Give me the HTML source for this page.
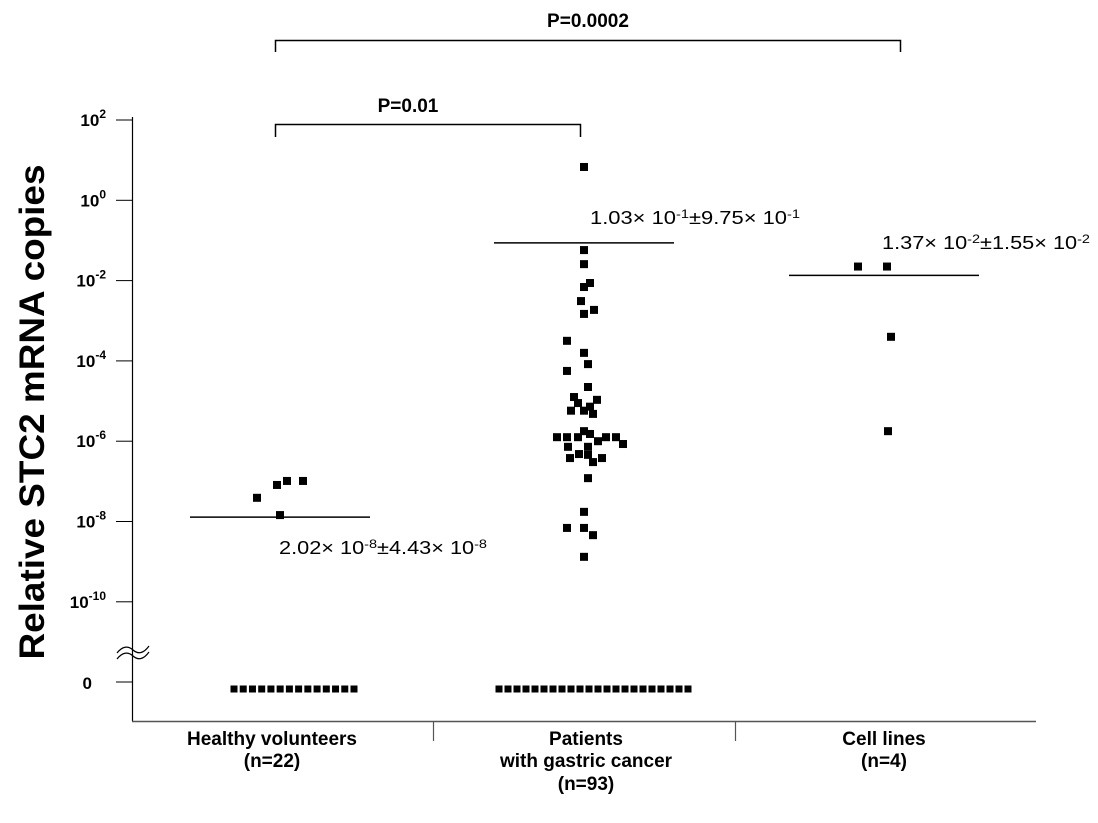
<!DOCTYPE html>
<html><head><meta charset="utf-8"><style>
body{margin:0;background:#fff;}
svg text{font-family:"Liberation Sans",Arial,sans-serif;fill:#000;}
</style></head><body>
<svg id="chart" width="1098" height="818" viewBox="0 0 1098 818" xmlns="http://www.w3.org/2000/svg">
<g id="axes"></g>
<g id="marks"></g>
<text transform="translate(44,412) rotate(-90)" text-anchor="middle" font-size="35" font-weight="bold" textLength="495" lengthAdjust="spacingAndGlyphs">Relative STC2  mRNA copies</text>
<g>
<path d="M275.5,52 V40.5 H900.5 V52" fill="none" stroke="#000" stroke-width="1.5"/>
<text x="588" y="27" text-anchor="middle" font-size="19" font-weight="bold">P=0.0002</text>
</g>
<g>
<path d="M275.5,137 V124.5 H580.5 V137" fill="none" stroke="#000" stroke-width="1.5"/>
<text x="408" y="112" text-anchor="middle" font-size="19" font-weight="bold">P=0.01</text>
</g>
<text x="279" y="554" font-size="18" textLength="208" lengthAdjust="spacingAndGlyphs">2.02× 10<tspan dy="-6" font-size="12">-8</tspan><tspan dy="6">±4.43× 10</tspan><tspan dy="-6" font-size="12">-8</tspan></text>
<text x="590" y="224" font-size="18" textLength="210" lengthAdjust="spacingAndGlyphs">1.03× 10<tspan dy="-6" font-size="12">-1</tspan><tspan dy="6">±9.75× 10</tspan><tspan dy="-6" font-size="12">-1</tspan></text>
<text x="882" y="249" font-size="18" textLength="208" lengthAdjust="spacingAndGlyphs">1.37× 10<tspan dy="-6" font-size="12">-2</tspan><tspan dy="6">±1.55× 10</tspan><tspan dy="-6" font-size="12">-2</tspan></text>
<g font-size="19" font-weight="bold" text-anchor="middle">
<text x="272" y="745">Healthy volunteers<tspan x="272" dy="22">(n=22)</tspan></text>
<text x="586" y="745">Patients<tspan x="586" dy="22">with gastric cancer</tspan><tspan x="586" dy="23">(n=93)</tspan></text>
<text x="884" y="745">Cell lines<tspan x="884" dy="22">(n=4)</tspan></text>
</g>
</svg>
<script>
const tickExps = [2, 0, -2, -4, -6, -8, -10];
const categories = ["Healthy volunteers", "Patients with gastric cancer", "Cell lines"];
const healthyLog = [-7.41, -7.09, -6.99, -6.99, -7.84];
const healthyJit = [-23, -3, 7, 23, 0];
const healthyZeros = 14;
const healthyMeanLog = -7.89;
const patientsLog = [0.83, -1.24, -1.59, -2.06, -2.16, -2.51, -2.73, -2.83, -3.5, -3.8, -4.08, -4.25, -4.65, -4.9, -4.97, -5.05, -5.24, -5.24, -5.14, -5.32, -5.75, -5.9, -5.9, -5.9, -5.82, -6.0, -5.9, -5.9, -6.07, -6.14, -6.14, -6.32, -6.34, -6.42, -6.52, -6.42, -6.92, -7.76, -8.16, -8.16, -8.34, -8.88];
const patientsJit = [0, 0, 0, 6, 0, -3, 10, 0, -17, 0, 4, -17, 4, -10, 13, -6, -13, 0, 6, 9, 0, -27, -17, -6, 6, 14, 22, 32, 39, -16, 4, -5, 4, -14, 9, 18, 4, 0, -17, 0, 9, 0];
const patientsZeros = 22;
const patientsMeanLog = -1.06;
const cellLog = [-1.65, -1.65, -3.4, -5.75];
const cellJit = [-26, 3, 7, 4];
const cellMeanLog = -1.87;

const NS = "http://www.w3.org/2000/svg";
const Y0 = 120, DEC = 40.15, ZERO_Y = 689, ZERO_TICK = 682;
const catX = [280, 584, 884];
const yScale = e => Y0 + (2 - e) * DEC;
function mk(tag, attrs, parent){ const el=document.createElementNS(NS,tag); for(const k in attrs) el.setAttribute(k,attrs[k]); parent.appendChild(el); return el; }
const axes = document.getElementById('axes'), marks = document.getElementById('marks');

const yl = mk('line',{x1:132.5,y1:117,x2:132.5,y2:721,stroke:'#000','stroke-width':1.2},axes);


const xl = mk('line',{x1:132,y1:721.5,x2:1036,y2:721.5,stroke:'#555','stroke-width':1.5},axes);


[433,735].forEach(x=>{
  const t = mk('line',{x1:x+0.5,y1:722,x2:x+0.5,y2:741,stroke:'#555','stroke-width':1.2},axes);
  
  
});
tickExps.forEach(e=>{
  const y = yScale(e);
  const t = mk('line',{x1:116,y1:y,x2:132,y2:y,stroke:'#000','stroke-width':1},axes);
  
  
  const tx = mk('text',{x:106,y:y+6,'text-anchor':'end','font-size':17,'font-weight':'bold'},axes);
  
  
  tx.textContent='10';
  const sp = mk('tspan',{dy:-8,'font-size':12},tx); sp.textContent=String(e);
});
{
  const t = mk('line',{x1:116,y1:ZERO_TICK,x2:132,y2:ZERO_TICK,stroke:'#000','stroke-width':1},axes);
  
  
  const tx = mk('text',{x:92,y:ZERO_TICK+7,'text-anchor':'end','font-size':17,'font-weight':'bold'},axes);
  
  
  tx.textContent='0';
  const br = mk('path',{d:'M117,653 q8,-10 16,-3 t16,-4 M117,659 q8,-10 16,-3 t16,-4',fill:'none',stroke:'#000','stroke-width':1.2},axes);
  
  
}
function pt(x,y,s){
  s = s || 8;
  const r = mk('rect',{x:x-s/2,y:y-s/2,width:s,height:s,fill:'#000'},marks);
  
  
}
function meanLine(ci,e,half){
  const y=yScale(e);
  const l = mk('line',{x1:catX[ci]-half,y1:y,x2:catX[ci]+half,y2:y,stroke:'#000','stroke-width':1.5},marks);
  
  
}
healthyLog.forEach((v,i)=>pt(catX[0]+healthyJit[i], yScale(v)));
patientsLog.forEach((v,i)=>pt(catX[1]+patientsJit[i], yScale(v)));
cellLog.forEach((v,i)=>pt(catX[2]+cellJit[i], yScale(v)));
for(let i=0;i<healthyZeros;i++) pt(234+i*(120/(healthyZeros-1)), ZERO_Y, 7);
for(let i=0;i<patientsZeros;i++) pt(499+i*(189/(patientsZeros-1)), ZERO_Y, 7);
meanLine(0,healthyMeanLog,90);
meanLine(1,patientsMeanLog,90);
meanLine(2,cellMeanLog,95);
</script>
</body></html>
